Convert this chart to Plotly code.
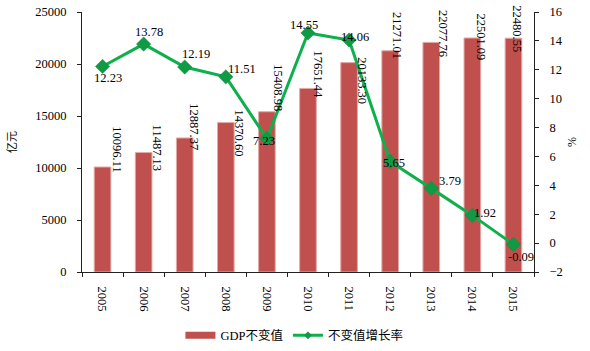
import plotly.graph_objects as go

years = ["2005", "2006", "2007", "2008", "2009", "2010", "2011", "2012", "2013", "2014", "2015"]
gdp_const = [10096.11, 11487.13, 12887.37, 14370.60, 15408.98, 17651.44, 20133.30, 21271.01, 22077.76, 22501.09, 22480.55]
growth = [12.23, 13.78, 12.19, 11.51, 7.23, 14.55, 14.06, 5.65, 3.79, 1.92, -0.09]

bar_name = "GDP不变值"
line_name = "不变值增长率"

# label placement (pixel shifts) - style only
bar_lbl_dx = [14.4, 14.3, 9.2, 13, 11, 10, 13, 7, 11, 8.5, 3.4]
bar_lbl_dy = [17.7, 5, 10.7, -10.8, 23.5, 14, -17.7, 15.5, 9, 0.7, 9]
line_lbl_dx = [5.7, 5.3, 11, 16.5, -2.5, -4, 5.5, 4, 18.5, 12.5, 8]
line_lbl_dy = [-11.5, 12.4, 13, 7.7, -2, 8, 3.5, -1, 7.5, 2.7, -12.3]

FONT = "Liberation Serif, Times New Roman, Noto Sans CJK SC, serif"
BAR_COLOR = "#C0504D"
LINE_COLOR = "#0DB04B"
MARK_COLOR = "#119A46"

idx = list(range(len(years)))

fig = go.Figure()
fig.add_trace(go.Bar(
    x=idx, y=gdp_const, name=bar_name, yaxis="y", showlegend=False,
    marker=dict(color=BAR_COLOR, line=dict(color="#E3A9A7", width=1)),
    width=0.405,
))
# legend stand-in for the bar series (wide flat swatch as in the reference)
fig.add_trace(go.Scatter(
    x=[None], y=[None], name=bar_name, yaxis="y", mode="lines",
    line=dict(color=BAR_COLOR, width=7), showlegend=True, hoverinfo="skip",
))
fig.add_trace(go.Scatter(
    x=idx, y=growth, name=line_name, yaxis="y2", mode="lines+markers", showlegend=False,
    line=dict(color=LINE_COLOR, width=3),
    marker=dict(symbol="diamond", size=11, color=MARK_COLOR, line=dict(color="#0A8A3C", width=0.5)),
))
# legend stand-in for the line series (small diamond as in the reference)
fig.add_trace(go.Scatter(
    x=[None], y=[None], name=line_name, yaxis="y2", mode="lines+markers",
    line=dict(color=LINE_COLOR, width=3),
    marker=dict(symbol="diamond", size=6, color=MARK_COLOR), hoverinfo="skip",
))

annotations = []
for i, v in enumerate(gdp_const):
    annotations.append(dict(
        x=i, y=v, xref="x", yref="y", text=f"{v:.2f}", showarrow=False,
        textangle=90, xanchor="center", yanchor="middle",
        xshift=bar_lbl_dx[i], yshift=bar_lbl_dy[i],
        font=dict(family=FONT, size=12.5, color="black"),
    ))
for i, v in enumerate(growth):
    annotations.append(dict(
        x=i, y=v, xref="x", yref="y2", text=f"{v:.2f}", showarrow=False,
        xanchor="center", yanchor="middle",
        xshift=line_lbl_dx[i], yshift=line_lbl_dy[i],
        font=dict(family=FONT, size=12.5, color="black"),
    ))
# axis titles
annotations.append(dict(
    x=-0.155, y=0.5, xref="paper", yref="paper", text="亿元", showarrow=False,
    textangle=-90, xanchor="center", yanchor="middle",
    font=dict(family=FONT, size=11, color="black"),
))
annotations.append(dict(
    x=1.084, y=0.5, xref="paper", yref="paper", text="%", showarrow=False,
    textangle=-90, xanchor="center", yanchor="middle",
    font=dict(family=FONT, size=12, color="black"),
))

fig.update_layout(
    width=590, height=351,
    margin=dict(l=82, r=56, t=12, b=79, autoexpand=False),
    paper_bgcolor="white", plot_bgcolor="white",
    font=dict(family=FONT, size=12.5, color="black"),
    showlegend=True,
    legend=dict(orientation="h", x=0.47, xanchor="center", y=-0.245, yanchor="middle",
                font=dict(family=FONT, size=12.5, color="black"), bgcolor="rgba(0,0,0,0)",
                traceorder="normal", itemwidth=30),
    xaxis=dict(
        range=[-0.5, len(years) - 0.5], tickmode="array", tickvals=idx, ticktext=years,
        showgrid=False, showline=True, linecolor="#222", linewidth=1,
        ticks="", tickangle=90, tickfont=dict(family=FONT, size=12.5), ticklabelstandoff=11,
        zeroline=False,
    ),
    xaxis2=dict(
        range=[-0.5, len(years) - 0.5], overlaying="x", tickmode="array",
        tickvals=[i - 0.5 for i in range(len(years) + 1)], showticklabels=False,
        ticks="outside", ticklen=4, tickcolor="#222", showgrid=False, showline=False,
        zeroline=False, anchor="y",
    ),
    yaxis=dict(
        range=[0, 25000], dtick=5000, tick0=0, tickformat="d", showgrid=False, zeroline=False,
        showline=True, linecolor="#222", linewidth=1, ticks="outside", ticklen=4,
        tickcolor="#222", tickfont=dict(family=FONT, size=12.5), ticklabelstandoff=8,
    ),
    yaxis2=dict(
        range=[-2, 16], dtick=2, tick0=0, overlaying="y", side="right", showgrid=False,
        zeroline=False, showline=True, linecolor="#222", linewidth=1, ticks="outside",
        ticklen=4, tickcolor="#222", tickfont=dict(family=FONT, size=12.5), ticklabelstandoff=8,
    ),
    annotations=annotations,
)
# invisible trace to activate the boundary-tick axis
fig.add_trace(go.Scatter(x=[0], y=[0], xaxis="x2", yaxis="y", mode="markers",
                         marker=dict(opacity=0), showlegend=False, hoverinfo="skip"))

fig.write_html("out.html", config={"displayModeBar": False},
               post_script="document.body.style.margin='0';document.body.style.overflow='hidden';")
